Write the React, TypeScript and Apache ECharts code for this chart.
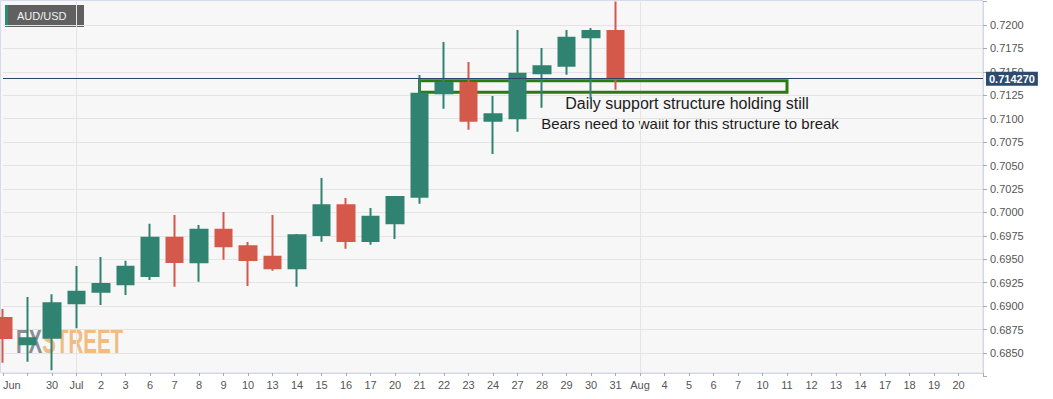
import React, { useEffect, useRef } from "react";
import * as echarts from "echarts";

// ---- data ----
const dates = [
  "2020-06-26", "2020-06-29", "2020-06-30", "2020-07-01", "2020-07-02", "2020-07-03",
  "2020-07-06", "2020-07-07", "2020-07-08", "2020-07-09", "2020-07-10", "2020-07-13",
  "2020-07-14", "2020-07-15", "2020-07-16", "2020-07-17", "2020-07-20", "2020-07-21",
  "2020-07-22", "2020-07-23", "2020-07-24", "2020-07-27", "2020-07-28", "2020-07-29",
  "2020-07-30", "2020-07-31", "2020-08-03", "2020-08-04", "2020-08-05", "2020-08-06",
  "2020-08-07", "2020-08-10", "2020-08-11", "2020-08-12", "2020-08-13", "2020-08-14",
  "2020-08-17", "2020-08-18", "2020-08-19", "2020-08-20", "2020-08-21",
];
const tickLabels = [
  "Jun", "", "30", "Jul", "2", "3", "6", "7", "8", "9", "10", "13", "14", "15", "16", "17",
  "20", "21", "22", "23", "24", "27", "28", "29", "30", "31", "Aug", "4", "5", "6", "7",
  "10", "11", "12", "13", "14", "17", "18", "19", "20", "",
];
const opens = [
  0.68873, 0.68593, 0.68663, 0.6903, 0.69154, 0.69233, 0.69322, 0.6973, 0.69468, 0.69816,
  0.69638, 0.69528, 0.69404, 0.69759, 0.70076, 0.69695, 0.69884, 0.70168, 0.71271, 0.71381,
  0.70979, 0.71004, 0.71484, 0.71566, 0.71869, 0.71936,
];
const closes = [
  0.6866, 0.68657, 0.6903, 0.69154, 0.69236, 0.69421, 0.6973, 0.69471, 0.69816, 0.69638,
  0.69492, 0.69404, 0.69756, 0.70076, 0.69695, 0.69954, 0.70165, 0.71267, 0.71381, 0.70979,
  0.71047, 0.7148, 0.71559, 0.71864, 0.71936, 0.71427,
];
const lows = [
  0.68396, 0.68407, 0.68315, 0.68764, 0.69012, 0.69119, 0.69279, 0.69207, 0.69261, 0.69496,
  0.69215, 0.69378, 0.69207, 0.69688, 0.69613, 0.69656, 0.69716, 0.70093, 0.71107, 0.70883,
  0.70623, 0.70861, 0.71117, 0.7147, 0.7121, 0.71309,
];
const highs = [
  0.68969, 0.69098, 0.69126, 0.69428, 0.69524, 0.69485, 0.6988, 0.69972, 0.69866, 0.70004,
  0.69684, 0.69972, 0.6977, 0.70367, 0.70154, 0.70047, 0.70175, 0.71466, 0.71818, 0.71605,
  0.71242, 0.71946, 0.71754, 0.71946, 0.71968, 0.7225,
];
const currentPrice = 0.71427;
const currentPriceLabel = "0.714270";
const zoneLow = 0.71282;
const zoneHigh = 0.71406;
const zoneStart = "2020-07-21";
const zoneEnd = "2020-08-11";
const yMin = 0.6825;
const yMax = 0.7225;
const yStep = 0.0025;

const GREEN = "#318371";
const RED = "#d5594a";

export default function App() {
  const ref = useRef<HTMLDivElement>(null);

  useEffect(() => {
    document.body.style.margin = "0";
    const chart = echarts.init(ref.current!, null, { renderer: "svg" });

    const candles = dates.map((_, i) =>
      i < opens.length ? [opens[i], closes[i], lows[i], highs[i]] : "-"
    );

    const font = "Arial, 'Liberation Sans', sans-serif";

    chart.setOption({
      animation: false,
      backgroundColor: "transparent",
      grid: { left: 0, right: 70, top: 1.57, bottom: 22.57 },
      xAxis: {
        type: "category",
        data: dates,
        boundaryGap: false,
        offset: -3.43,
        axisLine: { lineStyle: { color: "#d3d7e8", width: 1 } },
        axisTick: { show: true, interval: 0, length: 3, lineStyle: { color: "#aaaaaa" } },
        axisLabel: {
          interval: 0,
          color: "#555555",
          fontSize: 11,
          fontFamily: font,
          margin: 6,
          alignMinLabel: "left",
          formatter: (_v: string, i: number) => tickLabels[i] ?? "",
        },
        splitLine: {
          show: true,
          interval: (i: number) => i === 3 || i === 26,
          lineStyle: { color: "#e4e4e4", width: 1 },
        },
      },
      yAxis: {
        type: "value",
        position: "right",
        min: yMin,
        max: yMax,
        interval: yStep,
        axisLine: { show: true, lineStyle: { color: "#d3d7e8", width: 1 } },
        axisTick: { show: true, length: 4, lineStyle: { color: "#aaaaaa" } },
        axisLabel: {
          color: "#555555",
          fontSize: 11,
          fontFamily: font,
          margin: 7,
          formatter: (v: number) =>
            Math.abs(v - yMin) < 1e-7 || Math.abs(v - yMax) < 1e-7 ? "" : v.toFixed(4),
        },
        splitLine: {
          show: true,
          showMinLine: false,
          showMaxLine: false,
          lineStyle: { color: "#e4e4e4", width: 1 },
        },
      },
      series: [
        {
          type: "candlestick",
          data: candles,
          barWidth: 17,
          clip: true,
          itemStyle: {
            color: GREEN,
            color0: RED,
            borderColor: GREEN,
            borderColor0: RED,
            borderWidth: 2,
          },
        },
        {
          type: "line",
          data: [],
          z: 10,
          markArea: {
            silent: true,
            itemStyle: {
              color: "rgba(0,0,0,0)",
              borderColor: "#2c7b12",
              borderWidth: 3,
            },
            data: [[{ xAxis: zoneStart, yAxis: zoneLow }, { xAxis: zoneEnd, yAxis: zoneHigh }]],
          },
          markLine: {
            silent: true,
            precision: 6,
            symbol: ["none", "none"],
            lineStyle: { color: "#2c4468", width: 1, type: "solid" },
            label: {
              show: true,
              position: "end",
              distance: 3,
              formatter: currentPriceLabel,
              color: "#ffffff",
              backgroundColor: "#2d4a6f",
              fontWeight: "bold",
              fontSize: 11,
              fontFamily: font,
              padding: [2, 3, 1, 3],
            },
            data: [{ yAxis: currentPrice }],
          },
        },
      ],
      graphic: [
        {
          type: "rect",
          silent: true,
          shape: { x: 0.5, y: 0.5, width: 982.5, height: 372.5 },
          style: { fill: "none", stroke: "#d6daec", lineWidth: 1 },
        },
        {
          type: "group",
          x: 5,
          y: 5,
          silent: true,
          children: [
            { type: "rect", shape: { x: 0, y: 0, width: 79, height: 22 }, style: { fill: "#606060" } },
            { type: "rect", shape: { x: 0, y: 0, width: 3, height: 22 }, style: { fill: "#2e8b73" } },
            {
              type: "text",
              x: 12,
              y: 11,
              style: {
                text: "AUD/USD",
                fill: "#f2f2f2",
                font: `11px ${font}`,
                verticalAlign: "middle",
                align: "left",
              },
            },
          ],
        },
        {
          type: "text",
          x: 16,
          y: 340,
          scaleX: 0.57,
          silent: true,
          style: {
            text: "{a|FX}{b|STREET}",
            verticalAlign: "middle",
            align: "left",
            rich: {
              a: { fill: "#8b8e97", fontSize: 36, fontWeight: "bold", fontFamily: font },
              b: { fill: "#efbd82", fontSize: 36, fontWeight: "bold", fontFamily: font },
            },
          },
        },
        {
          type: "text",
          x: 687,
          y: 103,
          silent: true,
          style: {
            text: "Daily support structure holding still",
            fill: "#1c1c1c",
            font: `16px ${font}`,
            align: "center",
            verticalAlign: "middle",
          },
        },
        {
          type: "text",
          x: 690,
          y: 123,
          silent: true,
          style: {
            text: "Bears need to waiit for this structure to break",
            fill: "#1c1c1c",
            font: `15px ${font}`,
            align: "center",
            verticalAlign: "middle",
          },
        },
      ],
    });

    return () => chart.dispose();
  }, []);

  return (
    <div
      ref={ref}
      style={{
        width: 1053,
        height: 399,
        background:
          "linear-gradient(#f7f7f7, #f7f7f7) 0 0 / 983px 373px no-repeat, #ffffff",
      }}
    />
  );
}
